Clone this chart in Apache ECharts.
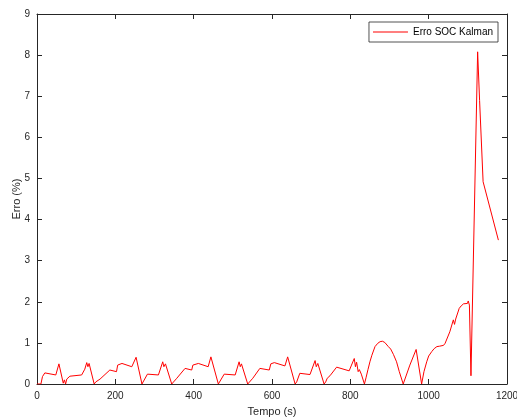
<!DOCTYPE html>
<html>
<head>
<meta charset="utf-8">
<script src="https://cdn.jsdelivr.net/npm/echarts@6/dist/echarts.min.js"></script>
<style>
  html, body { margin: 0; padding: 0; background: #fff; }
  #chart { width: 517px; height: 419px; }
</style>
</head>
<body>
<div id="chart"></div>
<script>
// Kalman SOC estimation error over time
const tempo = [
  0, 10, 14, 20, 48, 56, 67, 70, 73, 76, 84, 114, 122, 127, 130, 133, 146, 150, 161, 186,
  203, 206, 217, 242, 253, 268, 272, 282, 310, 321, 324, 328, 344, 348, 357, 378, 395, 398,
  412, 437, 444, 463, 467, 478, 506, 516, 519, 522, 538, 541, 551, 569, 593, 597, 606, 633,
  640, 659, 663, 671, 697, 710, 713, 717, 733, 737, 741, 748, 765, 797, 803, 810, 813, 816,
  820, 823, 828, 836, 840, 845, 850, 855, 863, 870, 876, 882, 888, 893, 897, 903, 910, 918,
  925, 935, 952, 968, 982, 988, 995, 1000, 1008, 1014, 1021, 1028, 1033, 1038, 1042, 1054,
  1063, 1066, 1069, 1078, 1083, 1089, 1099, 1101, 1104, 1108, 1125, 1130, 1139, 1178
];
const erro = [
  0, 0, 0.18, 0.27, 0.22, 0.49, 0.02, 0.10, 0, 0.12, 0.19, 0.22, 0.36, 0.52, 0.42, 0.50, 0, 0.05, 0.12, 0.34,
  0.30, 0.46, 0.50, 0.42, 0.65, 0, 0, 0.24, 0.22, 0.54, 0.42, 0.49, 0, 0.04, 0.14, 0.38, 0.34, 0.46,
  0.50, 0.42, 0.66, 0, 0, 0.24, 0.22, 0.54, 0.42, 0.49, 0, 0.04, 0.14, 0.38, 0.34, 0.49, 0.52, 0.44,
  0.66, 0, 0.05, 0.26, 0.23, 0.57, 0.42, 0.50, 0, 0.05, 0.14, 0.20, 0.41, 0.32, 0.46, 0.62, 0.42, 0.53,
  0.30, 0.35, 0.24, 0, 0.15, 0.35, 0.54, 0.70, 0.91, 0.99, 1.03, 1.04, 1.01, 0.97, 0.91, 0.85, 0.72, 0.54,
  0.30, 0, 0.46, 0.84, 0, 0.30, 0.54, 0.68, 0.79, 0.86, 0.91, 0.92, 0.92, 0.94, 0.99, 1.27,
  1.56, 1.45, 1.58, 1.84, 1.90, 1.95, 1.96, 2.02, 1.92, 0.20, 8.08, 6.90, 4.92, 3.50
];
const xTicks = { min: 0, max: 1200, interval: 200 };
const yTicks = { min: 0, max: 9, interval: 1 };
const seriesName = 'Erro SOC Kalman';

const points = tempo.map((t, i) => [t, erro[i]]);

const axisColor = '#262626';
const font = 'Liberation Sans, Arial, Helvetica, sans-serif';

const chart = echarts.init(document.getElementById('chart'), null, { renderer: 'canvas' });

const baseAxis = {
  axisLine: { show: true, onZero: false, lineStyle: { color: axisColor, width: 1 } },
  axisTick: { show: true, inside: true, length: 5, lineStyle: { color: axisColor } },
  splitLine: { show: false },
  axisLabel: { color: axisColor, fontFamily: font, fontSize: 10 }
};
const plainNumber = v => String(v);

chart.setOption({
  backgroundColor: '#ffffff',
  animation: false,
  grid: {
    left: 37, right: 10, top: 14, bottom: 35, show: false,
    containLabel: false, outerBoundsMode: 'none'
  },
  legend: {
    data: [seriesName],
    right: 19,
    top: 22,
    icon: 'rect',
    itemWidth: 35,
    itemHeight: 1,
    itemGap: 5,
    padding: [5, 5, 5, 4],
    borderColor: axisColor,
    borderWidth: 0.8,
    backgroundColor: '#fff',
    textStyle: { color: '#000', fontFamily: font, fontSize: 10 }
  },
  xAxis: [
    Object.assign({}, baseAxis, {
      type: 'value', position: 'bottom', ...xTicks,
      name: 'Tempo (s)', nameLocation: 'middle', nameGap: 22, nameMoveOverlap: false,
      nameTextStyle: { color: axisColor, fontFamily: font, fontSize: 11 },
      axisLabel: { color: axisColor, fontFamily: font, fontSize: 10, margin: 7, formatter: plainNumber }
    }),
    Object.assign({}, baseAxis, {
      type: 'value', position: 'top', ...xTicks,
      axisLabel: { show: false }
    })
  ],
  yAxis: [
    Object.assign({}, baseAxis, {
      type: 'value', position: 'left', ...yTicks,
      name: 'Erro (%)', nameLocation: 'middle', nameGap: 15, nameMoveOverlap: false,
      nameTextStyle: { color: axisColor, fontFamily: font, fontSize: 11 },
      axisLabel: { color: axisColor, fontFamily: font, fontSize: 10, margin: 7, formatter: plainNumber }
    }),
    Object.assign({}, baseAxis, {
      type: 'value', position: 'right', ...yTicks,
      axisLabel: { show: false }
    })
  ],
  series: [{
    name: seriesName,
    type: 'line',
    xAxisIndex: 0,
    yAxisIndex: 0,
    data: points,
    showSymbol: false,
    symbol: 'none',
    color: '#ff0000',
    lineStyle: { color: '#ff0000', width: 1 },
    itemStyle: { color: '#ff0000' }
  }]
});
</script>
</body>
</html>
